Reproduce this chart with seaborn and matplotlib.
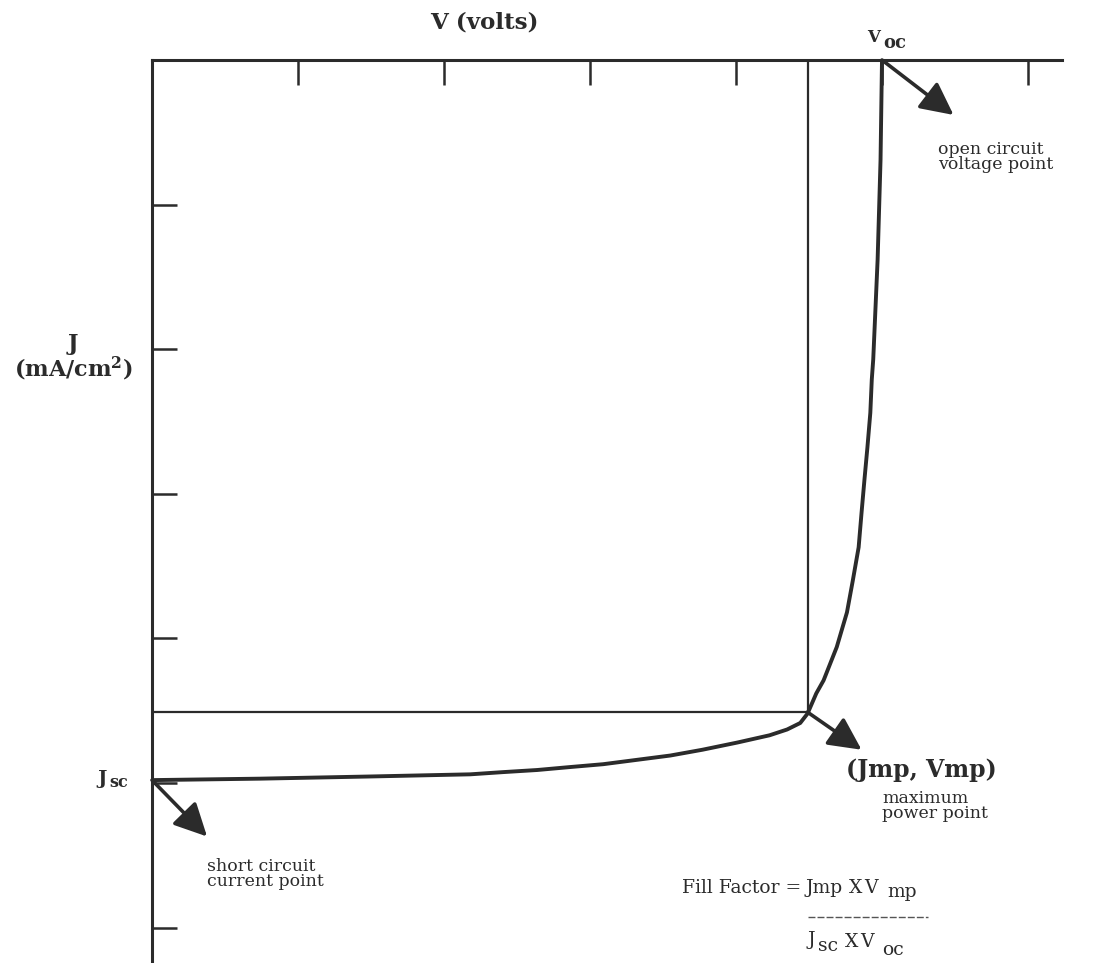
import matplotlib
matplotlib.use("Agg")
import matplotlib.pyplot as plt
import seaborn as sns
import pandas as pd

# ---- data ----
voltage = [0.00, 0.74, 1.49, 2.18, 2.40, 2.64, 2.86, 3.09, 3.32, 3.55, 3.77, 4.01,
           4.23, 4.35, 4.44, 4.49, 4.52, 4.55, 4.60, 4.69, 4.76, 4.80, 4.84, 4.86,
           4.88, 4.90, 4.92, 4.93, 4.94, 4.97, 4.99, 5.00]
current = [4.98, 4.97, 4.955, 4.94, 4.925, 4.91, 4.89, 4.87, 4.84, 4.81, 4.77, 4.72,
           4.67, 4.63, 4.585, 4.52, 4.45, 4.38, 4.29, 4.06, 3.82, 3.60, 3.37, 3.13,
           2.90, 2.68, 2.44, 2.21, 2.07, 1.38, 0.69, 0.00]
v_ticks = [1, 2, 3, 4, 5, 6]
j_ticks = [1, 2, 3, 4, 5, 6]
v_mp, j_mp = 4.49, 4.51
v_oc, j_sc = 5.0, 4.98

W, H = 1102, 963
sns.set_theme(style="white")
plt.rcParams["font.family"] = ["DejaVu Serif"]
plt.rcParams["mathtext.fontset"] = "dejavuserif"

ink = "#2b2b2b"
fig = plt.figure(figsize=(W / 100, H / 100), dpi=100)
fig.patch.set_facecolor("white")
ax = fig.add_axes([152 / W, 0, 910 / W, 903 / H])
ax.set_facecolor("white")

df = pd.DataFrame({"V": voltage, "J": current})
sns.lineplot(data=df, x="V", y="J", sort=False, estimator=None, color=ink,
             linewidth=2.8, ax=ax)

# max power rectangle
ax.plot([v_mp, v_mp], [0, j_mp], color=ink, linewidth=1.6)
ax.plot([0, v_mp], [j_mp, j_mp], color=ink, linewidth=1.6)

ax.set_xlim(0, 910 / 146)
ax.set_ylim(903 / 144.6, 0)
ax.xaxis.tick_top()
ax.set_xticks(v_ticks)
ax.set_yticks(j_ticks)
ax.set_xticklabels([])
ax.set_yticklabels([])
ax.tick_params(axis="both", direction="in", length=18, width=1.8, color=ink,
               top=True, bottom=False, left=True, right=False)
for s in ["right", "bottom"]:
    ax.spines[s].set_visible(False)
for s in ["top", "left"]:
    ax.spines[s].set_visible(True)
    ax.spines[s].set_color(ink)
    ax.spines[s].set_linewidth(2.2)
ax.set_xlabel("")
ax.set_ylabel("")

arrow_kw = dict(arrowstyle="-|>,head_length=1.0,head_width=0.5", color=ink,
                lw=2.6, mutation_scale=20, shrinkA=0, shrinkB=0)
ax.annotate("", xy=(5.49, 0.38), xytext=(v_oc, 0.0), arrowprops=arrow_kw)
ax.annotate("", xy=(4.86, 4.77), xytext=(v_mp, j_mp), arrowprops=arrow_kw)
ax.annotate("", xy=(0.377, 5.37), xytext=(0.0, j_sc), arrowprops=arrow_kw)


def px(x, y):
    return x / W, 1 - y / H


def t(x, y, s, **kw):
    kw.setdefault("color", ink)
    kw.setdefault("va", "center")
    kw.setdefault("ha", "left")
    fig.text(*px(x, y), s, transform=fig.transFigure, **kw)


t(484, 22, "V (volts)", fontsize=16.5, fontweight="bold", ha="center")
t(73, 358, "J\n(mA/cm$^{\\mathbf{2}}$)", fontsize=16, fontweight="bold",
  ha="center", multialignment="center", linespacing=0.95)
t(867, 37, "V", fontsize=12, fontweight="bold")
t(883, 43, "oc", fontsize=13, fontweight="bold")
t(97, 779, "J", fontsize=14, fontweight="bold")
t(109, 782, "sc", fontsize=11.5, fontweight="bold")
t(938, 157, "open circuit\nvoltage point", fontsize=12.5, linespacing=0.9)
t(846, 770, "(Jmp, Vmp)", fontsize=17, fontweight="bold")
t(882, 806, "maximum\npower point", fontsize=12.5, linespacing=0.9)
t(207, 874, "short circuit\ncurrent point", fontsize=12.5, linespacing=0.9)

# fill factor formula
t(682, 888, "Fill Factor =", fontsize=13.5)
t(806, 888, "Jmp", fontsize=13.5)
t(849, 888, "X", fontsize=13.5)
t(864, 888, "V", fontsize=13.5)
t(887, 892, "mp", fontsize=13.5)
fig.add_artist(plt.Line2D([808 / W, 928 / W], [1 - 917 / H, 1 - 917 / H],
                          transform=fig.transFigure, color="#555555", lw=1,
                          linestyle=(0, (5, 1.5))))
t(807, 940, "J", fontsize=13.5)
t(818, 946, "sc", fontsize=13.5)
t(845, 942, "X", fontsize=13.5)
t(860, 942, "V", fontsize=13.5)
t(882, 950, "oc", fontsize=13.5)

fig.savefig("out.png", dpi=100, facecolor="white")
